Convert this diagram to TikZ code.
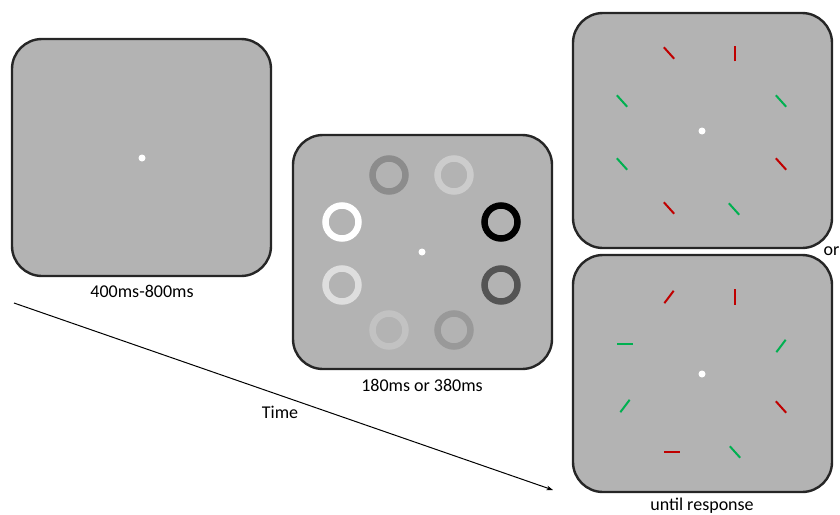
\documentclass[tikz,border=0pt]{standalone}
\usepackage{fontspec}
\setmainfont{Carlito}
\usetikzlibrary{arrows.meta,calc}
\definecolor{panelfill}{HTML}{B3B3B3}
\definecolor{paneldraw}{HTML}{262626}
\definecolor{rred}{HTML}{C00000}
\definecolor{rgreen}{HTML}{00B050}
\tikzset{
  panel/.style={draw=paneldraw, line width=2.4pt, fill=panelfill, rounded corners=30pt,
    minimum width=259pt, inner sep=0pt, outer sep=0pt},
  fixdot/.style={circle, fill=white, minimum size=7pt, inner sep=0pt},
  ring/.style={circle, draw=#1, line width=6.5pt, minimum size=33pt, inner sep=0pt},
  lbl/.style={font=\fontsize{18}{20}\selectfont, inner sep=0pt},
  stimbar/.style={line width=2pt, draw=#1},
}
\newcommand{\sbar}[4]{\draw[stimbar=#4] ($(#1,#2)+(#3:7.75)$) -- ($(#1,#2)+(#3+180:7.75)$);}
\begin{document}
\begin{tikzpicture}[x=1pt,y=-1pt]
\clip (0,0) rectangle (840,514);
% panels
\node[panel, minimum height=237pt] (p1) at (141.5,157.5) {};
\node[panel, minimum height=234pt] (p2) at (422.5,252) {};
\node[panel, minimum height=235pt] (p3) at (702.5,130.5) {};
\node[panel, minimum height=237pt] (p4) at (702.5,373.5) {};
% fixation dots
\node[fixdot] (d1) at (142,158) {};
\node[fixdot] (d2) at (422,252) {};
\node[fixdot] (d3) at (702,131) {};
\node[fixdot] (d4) at (702,374) {};
% rings
\node[ring=black!45] (r1) at (389,175) {};
\node[ring=black!20] (r2) at (454,175) {};
\node[ring=white] (r3) at (342,222) {};
\node[ring=black] (r4) at (501,222) {};
\node[ring=black!13] (r5) at (342,285) {};
\node[ring=black!67] (r6) at (501,285) {};
\node[ring=black!24] (r7) at (389,330) {};
\node[ring=black!40] (r8) at (454,330) {};
% top-right panel bars
\sbar{669}{53}{48}{rred}
\sbar{735}{53.5}{90}{rred}
\sbar{622}{101}{48}{rgreen}
\sbar{781}{101}{48}{rgreen}
\sbar{622}{164}{48}{rgreen}
\sbar{781}{164}{48}{rred}
\sbar{669}{208}{48}{rred}
\sbar{734}{209}{48}{rgreen}
% bottom-right panel bars
\sbar{669}{297}{-53}{rred}
\sbar{735}{297}{90}{rred}
\sbar{625}{344}{0}{rgreen}
\sbar{781}{346}{-53}{rgreen}
\sbar{625}{406}{-53}{rgreen}
\sbar{781}{407}{48}{rred}
\sbar{672}{452}{0}{rred}
\sbar{735}{452}{48}{rgreen}
% labels
\node[lbl] (l1) at (142,291) {400ms-800ms};
\node[lbl] (l2) at (422,385) {180ms or 380ms};
\node[lbl] (l4) at (702,506) {until response};
\node[lbl, anchor=west] (lor) at (823.5,251) {or};
\node[lbl] (lt) at (280,412) {Time};
% time arrow
\coordinate (ts) at (14,303);
\coordinate (te) at (553,490);
\draw[line width=1pt, -{Stealth[length=6.5pt,width=4.5pt]}] (ts) -- (te);
\end{tikzpicture}
\end{document}
